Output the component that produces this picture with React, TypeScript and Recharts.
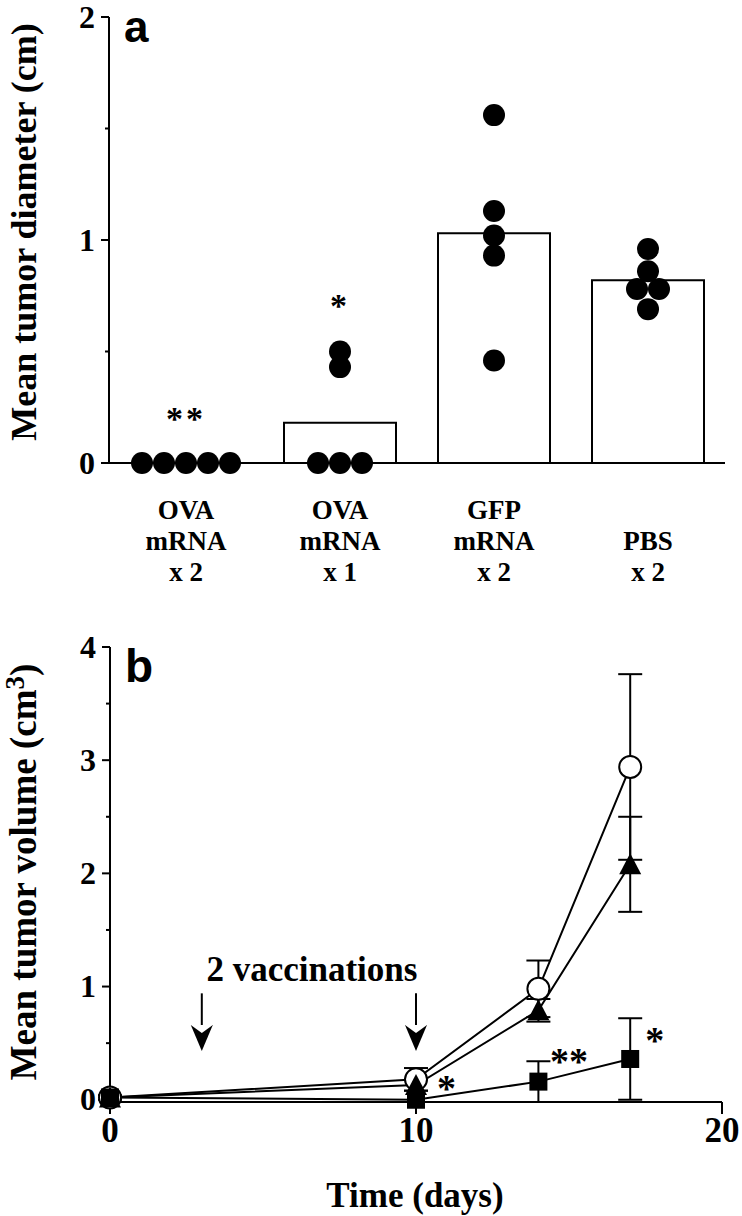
import React from 'react';
import { ComposedChart, Bar, Line, XAxis, YAxis, ErrorBar, ReferenceDot, ReferenceLine, Label } from 'recharts';

// panel a: tumor diameter per group
const groups = ['OVA mRNA x 2', 'OVA mRNA x 1', 'GFP mRNA x 2', 'PBS x 2'];
const groupLabelLines = [
  ['OVA', 'mRNA', 'x 2'],
  ['OVA', 'mRNA', 'x 1'],
  ['GFP', 'mRNA', 'x 2'],
  ['PBS', 'x 2'],
];
const groupMeans = [0, 0.18, 1.03, 0.82];
const ovaTwiceDots = [0, 0, 0, 0, 0];
const ovaOnceDots = [0, 0, 0, 0.43, 0.5];
const gfpDots = [0.46, 0.93, 1.02, 1.13, 1.56];
const pbsDots = [0.69, 0.78, 0.78, 0.86, 0.96];
const diameterTicks = [0, 0.5, 1, 1.5, 2];
const diameterStarGroups = [0, 1];
const diameterStarHeights = [0.22, 0.73];
const diameterStarMarks = ['**', '*'];

// panel b: tumor volume over time
const days = [0, 10, 14, 17];
const openCircle = [0.02, 0.18, 0.98, 2.94];
const openCircleErr = [0.02, 0.1, 0.25, 0.82];
const filledTriangle = [0.02, 0.13, 0.79, 2.08];
const filledTriangleErr = [0, 0.05, 0.1, 0.42];
const filledSquare = [0.02, 0, 0.16, 0.36];
const filledSquareErr = [0, 0, 0.18, 0.36];
const volumeTicks = [0, 0.5, 1, 1.5, 2, 2.5, 3, 3.5, 4];
const dayTicks = [0, 10, 20];
const vaccinationDays = [3, 10];
const volumeStarDays = [11, 15, 17.8];
const volumeStarHeights = [0.15, 0.39, 0.57];
const volumeStarMarks = ['*', '**', '*'];

const SERIF = '"Liberation Serif", "Times New Roman", serif';
const SANS = '"Liberation Sans", Arial, sans-serif';
const DOT_GAP = 22;

const groupDots = [ovaTwiceDots, ovaOnceDots, gfpDots, pbsDots];
const diameterData = groups.map((g, i) => ({ group: g, mean: groupMeans[i], dots: groupDots[i] }));

const volumeData = days.map((d, i) => ({
  day: d,
  circle: openCircle[i],
  circleErr: openCircleErr[i],
  triangle: filledTriangle[i],
  triangleErr: filledTriangleErr[i],
  square: filledSquare[i],
  squareErr: filledSquareErr[i],
}));

// tick with long marks on whole numbers, short ones in between
function YTick(props: any) {
  const { x, y, payload } = props;
  const major = Number.isInteger(payload.value);
  const axisX = x + 12;
  return (
    <g>
      <line x1={axisX - (major ? 8 : 4)} x2={axisX} y1={y} y2={y} stroke="#000" strokeWidth={2} />
      {major && (
        <text x={axisX - 14} y={y} dy="0.33em" textAnchor="end" fontFamily={SERIF} fontWeight="bold" fontSize={32} fill="#000">
          {payload.value}
        </text>
      )}
    </g>
  );
}

function GroupTick(props: any) {
  const { x, index } = props;
  const lines = groupLabelLines[index] || [];
  const last = 581;
  return (
    <g>
      {lines.map((t, i) => (
        <text key={i} x={x} y={last - (lines.length - 1 - i) * 31} textAnchor="middle" fontFamily={SERIF} fontWeight="bold" fontSize={27} fill="#000">
          {t}
        </text>
      ))}
    </g>
  );
}

function makeGroupDot(k: number) {
  return (props: any) => {
    const { cx, cy, payload } = props;
    if (cx == null || cy == null) return <g key={`e${k}`} />;
    const vals: number[] = payload.dots;
    const v = vals[k];
    const near = (w: number) => Math.abs(w - v) < 0.05;
    const count = vals.filter(near).length;
    const slot = vals.slice(0, k).filter(near).length;
    const dx = (slot - (count - 1) / 2) * DOT_GAP;
    return <circle key={`d${k}-${payload.group}`} cx={cx + dx} cy={cy} r={11} fill="#000" />;
  };
}

function CircleDot(props: any) {
  const { cx, cy, index } = props;
  return <circle key={`c${index}`} cx={cx} cy={cy} r={11} fill="#fff" stroke="#000" strokeWidth={2} />;
}

function TriangleDot(props: any) {
  const { cx, cy, index } = props;
  return <polygon key={`t${index}`} points={`${cx},${cy - 11} ${cx + 11},${cy + 10} ${cx - 11},${cy + 10}`} fill="#000" />;
}

function SquareDot(props: any) {
  const { cx, cy, index } = props;
  return <rect key={`s${index}`} x={cx - 9} y={cy - 9} width={18} height={18} fill="#000" />;
}

function Arrow(props: any) {
  const { x1, y1, x2, y2 } = props;
  const head = 26;
  return (
    <g>
      <line x1={x1} y1={y1} x2={x2} y2={y2 - head + 2} stroke="#000" strokeWidth={2} />
      <polygon points={`${x2 - 11},${y2 - head} ${x2 + 11},${y2 - head} ${x2},${y2} `} fill="#000" />
      <polygon points={`${x2 - 11},${y2 - head} ${x2},${y2 - head + 8} ${x2 + 11},${y2 - head}`} fill="#fff" />
    </g>
  );
}

function starShape(mark: string, size: number, spacing: number) {
  return (props: any) => (
    <text x={props.cx} y={props.cy + size * 0.48} textAnchor="middle" fontFamily={SERIF} fontWeight="bold" fontSize={size} letterSpacing={spacing} fill="#000">
      {mark}
    </text>
  );
}

export default function App() {
  return (
    <div style={{ position: 'absolute', left: 0, top: 0, width: 742, height: 1216, background: '#fff' }}>
      <div style={{ position: 'absolute', left: 0, top: 0 }}>
        <ComposedChart width={742} height={600} data={diameterData} margin={{ top: 17, right: 17, left: 49, bottom: 37 }}>
          <XAxis
            dataKey="group"
            height={100}
            axisLine={{ stroke: '#000', strokeWidth: 2 }}
            tickLine={false}
            tick={<GroupTick />}
            interval={0}
          />
          <YAxis
            width={60}
            domain={[0, 2]}
            ticks={diameterTicks}
            axisLine={{ stroke: '#000', strokeWidth: 2 }}
            tickLine={false}
            tickSize={8}
            tickMargin={4}
            tick={<YTick />}
            interval={0}
          >
            <Label
              content={() => (
                <g>
                  <text transform="translate(36,232) rotate(-90)" textAnchor="middle" fontFamily={SERIF} fontWeight="bold" fontSize={36} fill="#000">
                    Mean tumor diameter (cm)
                  </text>
                  <text x={124} y={42} fontFamily={SANS} fontWeight="bold" fontSize={44} fill="#000">a</text>
                </g>
              )}
            />
          </YAxis>
          <Bar dataKey="mean" barSize={112} fill="#fff" stroke="#000" strokeWidth={2} isAnimationActive={false} />
          {[0, 1, 2, 3, 4].map((k) => (
            <Line
              key={k}
              dataKey={(row: any) => row.dots[k]}
              stroke="none"
              dot={makeGroupDot(k)}
              activeDot={false}
              legendType="none"
              isAnimationActive={false}
            />
          ))}
          {diameterStarGroups.map((gi, i) => (
            <ReferenceDot key={i} x={groups[gi]} y={diameterStarHeights[i]} shape={starShape(diameterStarMarks[i], 34, 3)} />
          ))}
        </ComposedChart>
      </div>
      <div style={{ position: 'absolute', left: 0, top: 600 }}>
        <ComposedChart width={742} height={616} data={volumeData} margin={{ top: 47, right: 20, left: 50, bottom: 54 }}>
          <XAxis
            dataKey="day"
            type="number"
            domain={[0, 20]}
            ticks={dayTicks}
            height={60}
            axisLine={{ stroke: '#000', strokeWidth: 2 }}
            tickLine={{ stroke: '#000', strokeWidth: 2 }}
            tickSize={12}
            tickMargin={3}
            tick={{ fill: '#000', fontFamily: SERIF, fontWeight: 'bold', fontSize: 35 }}
          >
            <Label
              content={() => (
                <text x={415} y={607} textAnchor="middle" fontFamily={SERIF} fontWeight="bold" fontSize={35} fill="#000">
                  Time (days)
                </text>
              )}
            />
          </XAxis>
          <YAxis
            width={60}
            domain={[0, 4]}
            ticks={volumeTicks}
            axisLine={{ stroke: '#000', strokeWidth: 2 }}
            tickLine={false}
            tickSize={8}
            tickMargin={4}
            tick={<YTick />}
            interval={0}
          >
            <Label
              content={() => (
                <g>
                  <text transform="translate(36,272) rotate(-90)" textAnchor="middle" fontFamily={SERIF} fontWeight="bold" fontSize={37} fill="#000">
                    Mean tumor volume (cm<tspan dy={-12} fontSize={27}>3</tspan><tspan dy={12}>)</tspan>
                  </text>
                  <text x={125} y={82} fontFamily={SANS} fontWeight="bold" fontSize={46} fill="#000">b</text>
                </g>
              )}
            />
          </YAxis>
          {vaccinationDays.map((d) => (
            <ReferenceLine key={d} segment={[{ x: d, y: 0.94 }, { x: d, y: 0.43 }]} shape={<Arrow />} />
          ))}
          <ReferenceDot
            x={6.6}
            y={1.05}
            shape={(p: any) => (
              <text x={p.cx} y={p.cy} textAnchor="middle" fontFamily={SERIF} fontWeight="bold" fontSize={35} fill="#000">
                2 vaccinations
              </text>
            )}
          />
          <Line dataKey="circle" stroke="#000" strokeWidth={2} dot={<CircleDot />} activeDot={false} isAnimationActive={false}>
            <ErrorBar dataKey="circleErr" width={12} stroke="#000" strokeWidth={2} direction="y" />
          </Line>
          <Line dataKey="triangle" stroke="#000" strokeWidth={2} dot={<TriangleDot />} activeDot={false} isAnimationActive={false}>
            <ErrorBar dataKey="triangleErr" width={12} stroke="#000" strokeWidth={2} direction="y" />
          </Line>
          <Line dataKey="square" stroke="#000" strokeWidth={2} dot={<SquareDot />} activeDot={false} isAnimationActive={false}>
            <ErrorBar dataKey="squareErr" width={12} stroke="#000" strokeWidth={2} direction="y" />
          </Line>
          {volumeStarDays.map((d, i) => (
            <ReferenceDot key={i} x={d} y={volumeStarHeights[i]} shape={starShape(volumeStarMarks[i], 38, 0)} />
          ))}
        </ComposedChart>
      </div>
    </div>
  );
}
